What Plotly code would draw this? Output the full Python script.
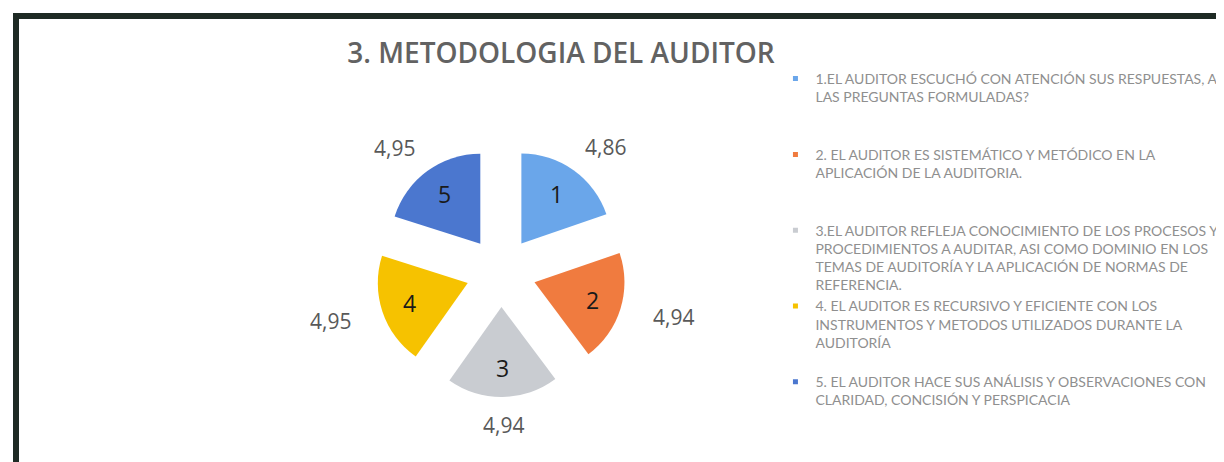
import math
import plotly.graph_objects as go

# ---- data ----
slice_numbers = ["1", "2", "3", "4", "5"]
values = [4.86, 4.94, 4.94, 4.95, 4.95]
value_labels = ["4,86", "4,94", "4,94", "4,95", "4,95"]
legend_labels = [
    "1.EL AUDITOR ESCUCHÓ CON ATENCIÓN SUS RESPUESTAS, A<br>LAS PREGUNTAS FORMULADAS?",
    "2. EL AUDITOR ES SISTEMÁTICO Y METÓDICO EN LA<br>APLICACIÓN DE LA AUDITORIA.",
    "3.EL AUDITOR REFLEJA CONOCIMIENTO DE LOS PROCESOS Y<br>PROCEDIMIENTOS A AUDITAR, ASI COMO DOMINIO EN LOS<br>TEMAS DE AUDITORÍA Y LA APLICACIÓN DE NORMAS DE<br>REFERENCIA.",
    "4. EL AUDITOR ES RECURSIVO Y EFICIENTE CON LOS<br>INSTRUMENTOS Y METODOS UTILIZADOS DURANTE LA<br>AUDITORÍA",
    "5. EL AUDITOR HACE SUS ANÁLISIS Y OBSERVACIONES CON<br>CLARIDAD, CONCISIÓN Y PERSPICACIA",
]
legend_pad_lines = [2, 2, 0, 1, 2]
colors = ["#6aa6ea", "#f07b3f", "#c9ccd1", "#f6c200", "#4b77cf"]
title_text = "3. METODOLOGIA DEL AUDITOR"

W, H = 1224, 462
cx, cy = 493, 264   # pie centre (px)
pull = 0.39
outer = 125         # outer extent of exploded pie (px)
r_slice = outer / (1 + pull)

fig = go.Figure()

fig.add_trace(go.Pie(
    values=values, labels=slice_numbers,
    textinfo="none",
    sort=False, direction="clockwise", rotation=0, pull=pull,
    marker=dict(colors=colors, line=dict(width=0)),
    domain=dict(x=[(cx - outer) / W, (cx + outer) / W],
                y=[1 - (cy + outer) / H, 1 - (cy - outer) / H]),
    showlegend=False, hoverinfo="label+value",
))

# labels placed from the slice angles: numbers inside, values outside
total = sum(values)
annotations = []
cum = 0.0
for v, num, lab in zip(values, slice_numbers, value_labels):
    mid = (cum + v / 2) / total * 2 * math.pi
    cum += v
    ux, uy = math.sin(mid), math.cos(mid)
    d_in = (pull + 0.68) * r_slice
    annotations.append(dict(
        x=(cx + d_in * ux) / W, y=1 - (cy - d_in * uy) / H,
        xref="paper", yref="paper", text=num, showarrow=False,
        xanchor="center", yanchor="middle",
        font=dict(size=23, color="#1a1a1a", family="Open Sans"),
    ))
    annotations.append(dict(
        x=(cx + 180 * ux) / W, y=1 - (cy - 153 * uy) / H,
        xref="paper", yref="paper", text=lab, showarrow=False,
        xanchor="center", yanchor="middle",
        font=dict(size=21, color="#595959", family="Open Sans"),
    ))

for lab, pad, col in zip(legend_labels, legend_pad_lines, colors):
    fig.add_trace(go.Scatter(
        x=[None], y=[None], mode="markers", name=lab + "<br>\u00a0" * pad,
        marker=dict(symbol="square", size=5, color=col), hoverinfo="skip",
    ))

shapes = [
    dict(type="rect", xref="paper", yref="paper", x0=5 / W, x1=1, y0=1 - 11 / H, y1=1 - 5 / H,
         fillcolor="#1e2a24", line=dict(width=0)),
    dict(type="rect", xref="paper", yref="paper", x0=5 / W, x1=11 / W, y0=0, y1=1 - 5 / H,
         fillcolor="#1e2a24", line=dict(width=0)),
]

fig.update_layout(
    width=W, height=H,
    margin=dict(l=0, r=0, t=0, b=0),
    paper_bgcolor="white", plot_bgcolor="white",
    xaxis=dict(visible=False), yaxis=dict(visible=False),
    title=dict(text=title_text, x=553 / W, xanchor="center", y=1 - 45 / H, yanchor="middle",
               font=dict(size=28, color="#626262", family="Open Sans", weight=600)),
    legend=dict(x=0.627, xanchor="left", y=1 - 55 / H, yanchor="top",
                valign="top", bgcolor="rgba(0,0,0,0)",
                font=dict(size=14, color="#8f8f8f", family="Lato")),
    annotations=annotations,
    shapes=shapes,
)

fig.write_html("out.html")
